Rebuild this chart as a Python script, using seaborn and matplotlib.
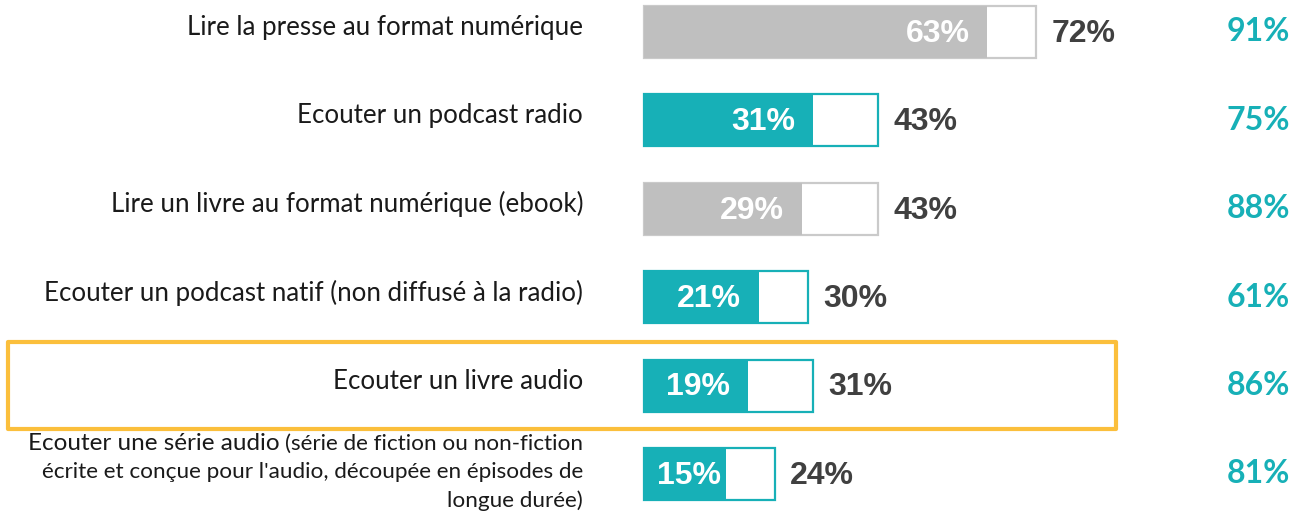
import matplotlib
matplotlib.use("Agg")
import matplotlib.pyplot as plt
import seaborn as sns
import pandas as pd
from matplotlib.patches import Rectangle

# Data
labels = [
    "Lire la presse au format numérique",
    "Ecouter un podcast radio",
    "Lire un livre au format numérique (ebook)",
    "Ecouter un podcast natif (non diffusé à la radio)",
    "Ecouter un livre audio",
    "Ecouter une série audio",
]
last_note = ["(série de fiction ou non-fiction",
             "écrite et conçue pour l'audio, découpée en épisodes de",
             "longue durée)"]
inner = [63, 31, 29, 21, 19, 15]
outer = [72, 43, 43, 30, 31, 24]
right = [91, 75, 88, 61, 86, 81]
kind = ["grey", "teal", "grey", "teal", "teal", "teal"]

TEAL = "#17B0B7"
GREY = "#BFBFBF"
EDGE_GREY = "#CACACA"
DARK = "#404040"

df = pd.DataFrame({"item": labels, "inner": inner, "outer": outer, "kind": kind})

sns.set_theme(style="white")
plt.rcParams["font.family"] = ["Lato", "DejaVu Sans"]

fig = plt.figure(figsize=(12.97, 5.15), dpi=100)
ax = fig.add_axes([0, 0, 1, 1])

# outer (white) bars with coloured border
sns.barplot(data=df, x="outer", y="item", color="white", saturation=1,
            width=0.59, orient="h", ax=ax)
edge = {"grey": EDGE_GREY, "teal": TEAL}
for p in ax.patches:
    i = int(round(p.get_y() + p.get_height() / 2))
    p.set_edgecolor(edge[kind[i]])
    p.set_linewidth(1.6)

# inner filled bars
sns.barplot(data=df, x="inner", y="item", hue="kind",
            palette={"grey": GREY, "teal": TEAL}, saturation=1, dodge=False,
            legend=False, width=0.59, orient="h", linewidth=0, ax=ax)

ax.set_xlim(-118.17, 119.8)
ax.set_ylim(5.464, -0.362)
ax.axis("off")

lab_x = -11.2
for i, (lab, a, b, r) in enumerate(zip(labels, inner, outer, right)):
    ax.text(max(a - 3.3, 14.2), i + 0.02, f"{a}%", ha="right", va="center",
            fontsize=23, fontweight="bold", color="white",
            family="Liberation Sans")
    ax.text(b + 2.8, i + 0.02, f"{b}%", ha="left", va="center",
            fontsize=23, fontweight="bold", color=DARK,
            family="Liberation Sans")
    ax.text(118.5, i, f"{r}%", ha="right", va="center",
            fontsize=23, fontweight="bold", color=TEAL)
    if i < 5:
        ax.text(lab_x, i - 0.05, lab, ha="right", va="center",
                fontsize=18.6, color="#1a1a1a")

# last, multi-line label
n = 5
small = ax.text(lab_x, n - 0.34, last_note[0], ha="right", va="center",
                fontsize=16.2, color="#1a1a1a")
ax.text(lab_x, n - 0.02, last_note[1], ha="right", va="center",
        fontsize=16.2, color="#1a1a1a")
ax.text(lab_x, n + 0.30, last_note[2], ha="right", va="center",
        fontsize=16.2, color="#1a1a1a")
fig.canvas.draw()
bb = small.get_window_extent(fig.canvas.get_renderer())
x_left = ax.transData.inverted().transform((bb.x0 - 5, bb.y0))[0]
ax.text(x_left, n - 0.35, labels[5], ha="right", va="center",
        fontsize=17.5, color="#1a1a1a")

# highlight box
ax.add_patch(Rectangle((-116.7, 3.507), 86.6 + 116.7, 4.491 - 3.507,
                       fill=False, edgecolor="#FBBF3C", linewidth=3,
                       joinstyle="round", clip_on=False))

fig.savefig("out.png", dpi=100)
